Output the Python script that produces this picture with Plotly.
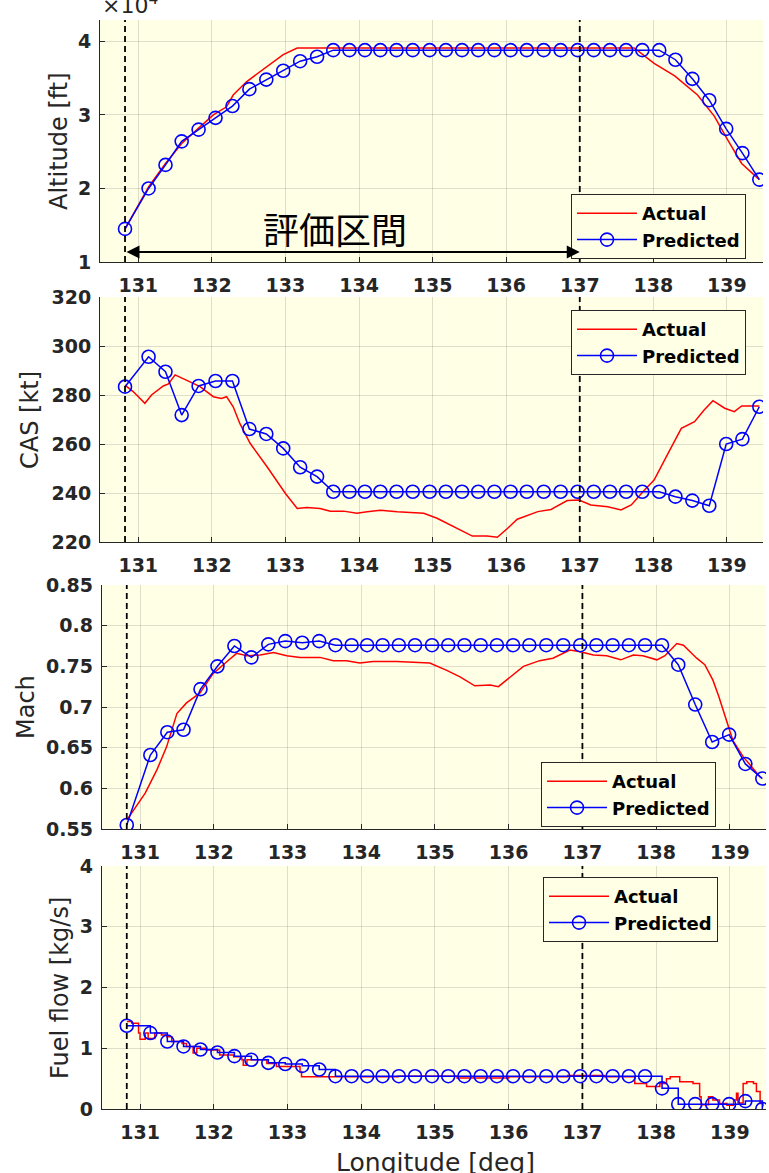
import plotly.graph_objects as go

# ---------------- data ----------------
lon_pred = [130.82, 131.14, 131.37, 131.59, 131.82, 132.05, 132.28, 132.51, 132.74, 132.97,
            133.20, 133.43, 133.65, 133.87, 134.08, 134.29, 134.51, 134.73, 134.96, 135.18,
            135.40, 135.62, 135.84, 136.06, 136.28, 136.51, 136.74, 136.97, 137.19, 137.41,
            137.63, 137.85, 138.08, 138.30, 138.53, 138.76, 138.99, 139.21, 139.44]

alt_pred = [1.45, 2.00, 2.32, 2.64, 2.80, 2.96, 3.12, 3.35, 3.48, 3.60, 3.73, 3.79, 3.88,
            3.88, 3.88, 3.88, 3.88, 3.88, 3.88, 3.88, 3.88, 3.88, 3.88, 3.88, 3.88, 3.88,
            3.88, 3.88, 3.88, 3.88, 3.88, 3.88, 3.88, 3.75, 3.49, 3.20, 2.81, 2.48, 2.12]

cas_pred = [283.4, 295.6, 289.5, 271.8, 283.7, 285.7, 285.7, 266.1, 264.1, 258.2, 250.5, 246.7,
            240.5, 240.5, 240.5, 240.5, 240.5, 240.5, 240.5, 240.5, 240.5, 240.5, 240.5, 240.5,
            240.5, 240.5, 240.5, 240.5, 240.5, 240.5, 240.5, 240.5, 240.5, 238.5, 236.9, 234.8,
            260.0, 262.0, 275.2]

mach_pred = [0.555, 0.641, 0.669, 0.672, 0.722, 0.750, 0.775, 0.761, 0.777, 0.781, 0.779, 0.781,
             0.776, 0.776, 0.776, 0.776, 0.776, 0.776, 0.776, 0.776, 0.776, 0.776, 0.776, 0.776,
             0.776, 0.776, 0.776, 0.776, 0.776, 0.776, 0.776, 0.776, 0.776, 0.752, 0.703, 0.657,
             0.666, 0.630, 0.612]

fuel_pred = [1.37, 1.25, 1.11, 1.03, 0.98, 0.93, 0.87, 0.81, 0.76, 0.74, 0.71, 0.65,
             0.54, 0.54, 0.54, 0.54, 0.54, 0.54, 0.54, 0.54, 0.54, 0.54, 0.54, 0.54,
             0.54, 0.54, 0.54, 0.54, 0.54, 0.54, 0.54, 0.54, 0.34, 0.08, 0.08, 0.08,
             0.08, 0.13, 0.0]

lon_alt_act = [130.82, 131.14, 131.37, 131.59, 131.82, 132.02, 132.20, 132.29, 132.47, 132.75,
               132.97, 133.16, 137.74, 138.01, 138.29, 138.60, 138.83, 139.01, 139.20, 139.44]
alt_act = [1.45, 2.02, 2.34, 2.61, 2.82, 3.00, 3.11, 3.27, 3.45, 3.66,
           3.82, 3.91, 3.91, 3.70, 3.53, 3.27, 2.98, 2.66, 2.34, 2.12]

lon_cas_act = [130.82, 130.93, 131.09, 131.18, 131.34, 131.41, 131.50, 131.66, 131.84, 132.02,
               132.13, 132.20, 132.29, 132.38, 132.52, 132.75, 132.88, 133.00, 133.16, 133.29,
               133.47, 133.61, 133.79, 133.97, 134.11, 134.29, 134.52, 134.88, 135.06, 135.29,
               135.54, 135.74, 135.88, 136.02, 136.15, 136.43, 136.61, 136.83, 136.99, 137.15,
               137.38, 137.56, 137.70, 137.88, 138.01, 138.20, 138.38, 138.56, 138.69, 138.81,
               138.97, 139.10, 139.20, 139.44]
cas_act = [284.0, 281.4, 276.6, 280.0, 283.7, 284.5, 288.2, 286.0, 283.4, 279.3,
           278.6, 279.3, 275.2, 268.4, 260.3, 250.7, 245.3, 239.8, 233.7, 234.1,
           233.7, 232.6, 232.6, 231.7, 232.3, 233.0, 232.3, 231.7, 229.7, 226.3,
           222.4, 222.4, 221.9, 225.6, 229.3, 232.4, 233.3, 236.9, 237.1, 235.1,
           234.4, 233.1, 235.1, 241.2, 245.3, 256.2, 266.4, 269.1, 273.9, 277.7,
           274.6, 273.2, 275.5, 275.5]

lon_mach_act = [130.82, 131.07, 131.23, 131.36, 131.50, 131.63, 131.81, 131.99, 132.18, 132.31,
                132.45, 132.63, 132.81, 132.99, 133.17, 133.44, 133.62, 133.80, 133.98, 134.16,
                134.48, 134.93, 135.16, 135.34, 135.54, 135.75, 135.86, 136.02, 136.20, 136.42,
                136.60, 136.83, 136.97, 137.15, 137.33, 137.52, 137.69, 137.82, 138.01, 138.12,
                138.28, 138.37, 138.55, 138.66, 138.77, 138.85, 138.96, 139.04, 139.18, 139.41]
mach_act = [0.561, 0.594, 0.623, 0.651, 0.692, 0.705, 0.717, 0.741, 0.756, 0.766,
            0.763, 0.764, 0.767, 0.763, 0.761, 0.761, 0.757, 0.757, 0.754, 0.756,
            0.756, 0.754, 0.745, 0.737, 0.726, 0.727, 0.725, 0.737, 0.750, 0.757,
            0.760, 0.770, 0.768, 0.764, 0.763, 0.758, 0.764, 0.763, 0.758, 0.763,
            0.778, 0.776, 0.760, 0.752, 0.733, 0.713, 0.680, 0.659, 0.639, 0.614]

lon_fuel_act = [130.82, 130.89, 130.98, 131.00, 131.07, 131.11, 131.20, 131.29, 131.36, 131.43,
                131.57, 131.63, 131.72, 131.77, 131.90, 132.08, 132.27, 132.38, 132.40, 132.45,
                132.58, 132.72, 132.85, 133.08, 133.17, 133.19, 134.50, 135.30, 136.00, 136.80,
                137.30, 137.67, 137.71, 137.87, 138.05, 138.14, 138.19, 138.32, 138.50, 138.57,
                138.59, 138.61, 138.71, 138.77, 138.86, 138.96, 139.05, 139.09, 139.11, 139.18,
                139.23, 139.32, 139.36, 139.41, 139.45]
fuel_act = [1.44, 1.41, 1.25, 1.15, 1.25, 1.16, 1.25, 1.22, 1.19, 1.11,
            1.08, 1.03, 0.92, 1.00, 0.97, 0.89, 0.86, 0.81, 0.72, 0.81,
            0.81, 0.75, 0.70, 0.70, 0.61, 0.53, 0.54, 0.51, 0.53, 0.55,
            0.53, 0.53, 0.42, 0.37, 0.42, 0.50, 0.53, 0.45, 0.42, 0.42,
            0.20, 0.07, 0.20, 0.15, 0.09, 0.06, 0.15, 0.26, 0.10, 0.42,
            0.45, 0.42, 0.29, 0.09, 0.04]

x_tickvals = [131, 132, 133, 134, 135, 136, 137, 138, 139]
x_ticktext = ["131", "132", "133", "134", "135", "136", "137", "138", "139"]
alt_tickvals = [1, 2, 3, 4]
cas_tickvals = [220, 240, 260, 280, 300, 320]
mach_tickvals = [0.55, 0.60, 0.65, 0.70, 0.75, 0.80, 0.85]
mach_ticktext = ["0.55", "0.6", "0.65", "0.7", "0.75", "0.8", "0.85"]
fuel_tickvals = [0, 1, 2, 3, 4]
eval_start = 130.82
eval_end = 137.0

# ---------------- layout helpers ----------------
W, H = 769, 1173
def px_x(p):
    return p / W
def px_y(p):
    return 1 - p / H

BG = "#FFFFE5"
AX = "#262626"
GRID = "rgba(38,38,38,0.15)"
RED = "#FF0000"
BLUE = "#0000FF"
TICKFONT = dict(family="DejaVu Sans", size=19, color=AX, weight="bold")
LEGFONT = dict(family="DejaVu Sans", size=18, color="#000000", weight="bold")

panels = [
    dict(xd=(100, 763), yd=(20, 262), yr=[1, 4.29]),
    dict(xd=(100, 763), yd=(297, 542), yr=[220, 320]),
    dict(xd=(101.7, 766), yd=(585, 829), yr=[0.55, 0.85]),
    dict(xd=(101.7, 766), yd=(866, 1109), yr=[0, 4]),
]

fig = go.Figure()

series = [
    (lon_alt_act, alt_act, alt_pred, "linear"),
    (lon_cas_act, cas_act, cas_pred, "linear"),
    (lon_mach_act, mach_act, mach_pred, "linear"),
    (lon_fuel_act, fuel_act, fuel_pred, "hv"),
]
leg_names = ["legend", "legend2", "legend3", "legend4"]

for i, (lx, ly, py, shape) in enumerate(series):
    n = "" if i == 0 else str(i + 1)
    fig.add_trace(go.Scatter(
        x=lx, y=ly, mode="lines", name="Actual",
        line=dict(color=RED, width=1.5, shape=shape),
        xaxis="x" + n, yaxis="y" + n, legend=leg_names[i]))
    fig.add_trace(go.Scatter(
        x=lon_pred, y=py, mode="lines+markers", name="Predicted",
        line=dict(color=BLUE, width=1.5, shape=shape),
        marker=dict(symbol="circle-open", size=13, color=BLUE,
                    line=dict(width=1.6, color="rgba(40,40,255,0.85)")),
        xaxis="x" + n, yaxis="y" + n, legend=leg_names[i]))

layout = dict(
    width=W, height=H,
    margin=dict(l=0, r=0, t=0, b=0, pad=0, autoexpand=False),
    paper_bgcolor="white", plot_bgcolor=BG,
    showlegend=True,
)

ytick_sets = [
    dict(tickvals=alt_tickvals, ticktext=[str(v) for v in alt_tickvals]),
    dict(tickvals=cas_tickvals, ticktext=[str(v) for v in cas_tickvals]),
    dict(tickvals=mach_tickvals, ticktext=mach_ticktext),
    dict(tickvals=fuel_tickvals, ticktext=[str(v) for v in fuel_tickvals]),
]

for i, p in enumerate(panels):
    n = "" if i == 0 else str(i + 1)
    layout["xaxis" + n] = dict(
        domain=[px_x(p["xd"][0]), px_x(p["xd"][1])],
        anchor="y" + n, range=[130.48, 139.49],
        tickvals=x_tickvals, ticktext=x_ticktext,
        showgrid=True, gridcolor=GRID, gridwidth=1,
        showline=True, linecolor=AX, linewidth=1, mirror=False,
        ticks="inside", ticklen=5, tickcolor=AX, tickwidth=1,
        tickfont=TICKFONT, ticklabelstandoff=6, zeroline=False, automargin=False,
    )
    layout["yaxis" + n] = dict(
        domain=[px_y(p["yd"][1]), px_y(p["yd"][0])],
        anchor="x" + n, range=p["yr"],
        showgrid=True, gridcolor=GRID, gridwidth=1,
        showline=True, linecolor=AX, linewidth=1, mirror=False,
        ticks="inside", ticklen=5, tickcolor=AX, tickwidth=1,
        tickfont=TICKFONT, ticklabelstandoff=4, zeroline=False, automargin=False,
        **ytick_sets[i],
    )

legend_pos = [(571, 194), (571, 310), (541, 762), (543, 877)]
for i, (lx, ly) in enumerate(legend_pos):
    layout[leg_names[i]] = dict(
        x=px_x(lx), y=px_y(ly), xanchor="left", yanchor="top",
        xref="paper", yref="paper",
        bgcolor=BG, bordercolor=AX, borderwidth=1,
        font=LEGFONT, itemwidth=60, tracegroupgap=0,
    )

fig.update_layout(**layout)

# dashed vertical lines marking the evaluation interval
for i in range(4):
    n = "" if i == 0 else str(i + 1)
    for xv in (eval_start, eval_end):
        fig.add_shape(type="line", xref="x" + n, yref="y" + n + " domain",
                      x0=xv, x1=xv, y0=0, y1=1,
                      line=dict(color="#000000", width=1.8, dash="6px,4px"))

# double arrow + Japanese label
fig.add_annotation(x=eval_end, y=1.136, ax=eval_start, ay=1.136,
                   xref="x", yref="y", axref="x", ayref="y",
                   text="", showarrow=True, arrowside="end+start",
                   arrowhead=2, arrowsize=1.3, arrowwidth=2, arrowcolor="#000000",
                   standoff=0, startstandoff=0)
fig.add_annotation(x=133.68, y=1.46, xref="x", yref="y", text="評価区間",
                   showarrow=False, xanchor="center", yanchor="middle",
                   font=dict(family="Noto Sans CJK JP", size=36, color="#000000"))

# exponent label (partly clipped at the top edge, as in the original)
fig.add_annotation(x=px_x(100), y=px_y(20), xref="paper", yref="paper",
                   text="×10<sup>4</sup>", showarrow=False, xanchor="left", yanchor="bottom",
                   font=dict(family="DejaVu Sans", size=22, color=AX))

# y axis titles
ytitles = [("Altitude [ft]", 59, 141),
           ("CAS [kt]", 30, 420),
           ("Mach", 26, 707),
           ("Fuel flow [kg/s]", 60, 988)]
for t, xx, yy in ytitles:
    fig.add_annotation(x=px_x(xx), y=px_y(yy), xref="paper", yref="paper", text=t,
                       textangle=-90, showarrow=False, xanchor="center", yanchor="middle",
                       font=dict(family="DejaVu Sans", size=24, color=AX))

# x axis title (partly clipped at the bottom edge, as in the original)
fig.add_annotation(x=px_x(435), y=px_y(1162), xref="paper", yref="paper",
                   text="Longitude [deg]", showarrow=False, xanchor="center", yanchor="middle",
                   font=dict(family="DejaVu Sans", size=25, color=AX))

fig.write_html("out.html")
